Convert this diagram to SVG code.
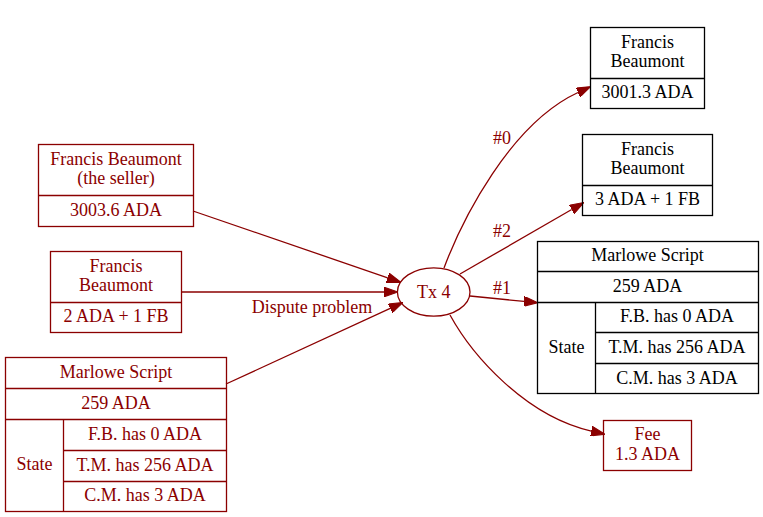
<svg xmlns="http://www.w3.org/2000/svg" width="763" height="517" viewBox="0 0 763 517">
<style>
text{font-family:'Liberation Serif','DejaVu Serif',serif;font-size:18px;text-anchor:middle}
.r rect,.r line,.r ellipse{stroke:#8b0000;fill:none;stroke-width:1.3}
.r text{fill:#8b0000}
.b rect,.b line{stroke:#000;fill:none;stroke-width:1.3}
.b text{fill:#000}
.e path{stroke:#8b0000;fill:none;stroke-width:1.3}
.lbl{fill:#8b0000}
</style>
<defs>
<marker id="ah" markerUnits="userSpaceOnUse" markerWidth="14" markerHeight="10" refX="0" refY="4.5" orient="auto" viewBox="0 0 13 9">
<path d="M0,0 L13,4.5 L0,9 z" fill="#8b0000" stroke="#8b0000"/>
</marker>
</defs>
<rect width="763" height="517" fill="#fff"/>
<g font-family="Liberation Serif, DejaVu Serif, serif" font-size="18" text-anchor="middle">
<g id="edges" class="e">
<path d="M193,211 L387.7,277.8" marker-end="url(#ah)"/>
<path d="M181,292 L384,292" marker-end="url(#ah)"/>
<path d="M226,384 L390.2,308.4" marker-end="url(#ah)"/>
<path d="M444,268 C462,220 510,124 578,92.5" marker-end="url(#ah)"/>
<path d="M460,274 L571.7,209.5" marker-end="url(#ah)"/>
<path d="M470,296 L524,301.4" marker-end="url(#ah)"/>
<path d="M450,315 C472,355 525,416 591.3,431.1" marker-end="url(#ah)"/>
<text class="lbl" x="312" y="313">Dispute problem</text>
<text class="lbl" x="502" y="144">#0</text>
<text class="lbl" x="502" y="237">#2</text>
<text class="lbl" x="502" y="294">#1</text>
</g>
<g id="seller" class="r">
<rect x="38.5" y="144.5" width="155" height="82"/>
<line x1="38.5" y1="195.5" x2="193.5" y2="195.5"/>
<text x="116" y="165">Francis Beaumont</text>
<text x="116" y="184">(the seller)</text>
<text x="116" y="216">3003.6 ADA</text>
</g>
<g id="fb_in" class="r">
<rect x="50.5" y="251.5" width="131" height="81"/>
<line x1="50.5" y1="302.5" x2="181.5" y2="302.5"/>
<text x="116" y="272">Francis</text>
<text x="116" y="291">Beaumont</text>
<text x="116" y="322">2 ADA + 1 FB</text>
</g>
<g id="marlowe_in" class="r">
<rect x="5.5" y="357.5" width="221" height="154"/>
<line x1="5.5" y1="388.5" x2="226.5" y2="388.5"/>
<line x1="5.5" y1="419.5" x2="226.5" y2="419.5"/>
<line x1="63.5" y1="450.5" x2="226.5" y2="450.5"/>
<line x1="63.5" y1="481.5" x2="226.5" y2="481.5"/>
<line x1="63.5" y1="419.5" x2="63.5" y2="511.5"/>
<text x="116" y="378">Marlowe Script</text>
<text x="116" y="409">259 ADA</text>
<text x="34.5" y="470">State</text>
<text x="145" y="440">F.B. has 0 ADA</text>
<text x="145" y="471">T.M. has 256 ADA</text>
<text x="145" y="501">C.M. has 3 ADA</text>
</g>
<g id="tx4" class="r">
<ellipse cx="433.7" cy="292" rx="36.3" ry="24.2"/>
<text x="433.7" y="297.5">Tx 4</text>
</g>
<g id="fb_out0" class="b">
<rect x="590.5" y="27.5" width="114" height="81"/>
<line x1="590.5" y1="78.5" x2="704.5" y2="78.5"/>
<text x="647.5" y="48">Francis</text>
<text x="647.5" y="67">Beaumont</text>
<text x="647.5" y="98">3001.3 ADA</text>
</g>
<g id="fb_out2" class="b">
<rect x="582.5" y="134.5" width="130" height="81"/>
<line x1="582.5" y1="185.5" x2="712.5" y2="185.5"/>
<text x="647.5" y="155">Francis</text>
<text x="647.5" y="174">Beaumont</text>
<text x="647.5" y="205">3 ADA + 1 FB</text>
</g>
<g id="marlowe_out1" class="b">
<rect x="537.5" y="241.5" width="221" height="152"/>
<line x1="537.5" y1="271.5" x2="758.5" y2="271.5"/>
<line x1="537.5" y1="302.5" x2="758.5" y2="302.5"/>
<line x1="595.5" y1="332.5" x2="758.5" y2="332.5"/>
<line x1="595.5" y1="363.5" x2="758.5" y2="363.5"/>
<line x1="595.5" y1="302.5" x2="595.5" y2="393.5"/>
<text x="647.5" y="261">Marlowe Script</text>
<text x="647.5" y="292">259 ADA</text>
<text x="566.5" y="353">State</text>
<text x="677" y="322">F.B. has 0 ADA</text>
<text x="677" y="353">T.M. has 256 ADA</text>
<text x="677" y="384">C.M. has 3 ADA</text>
</g>
<g id="fee" class="r">
<rect x="603.5" y="420.5" width="88" height="50"/>
<text x="647.5" y="440">Fee</text>
<text x="647.5" y="460">1.3 ADA</text>
</g>
</g>
</svg>
